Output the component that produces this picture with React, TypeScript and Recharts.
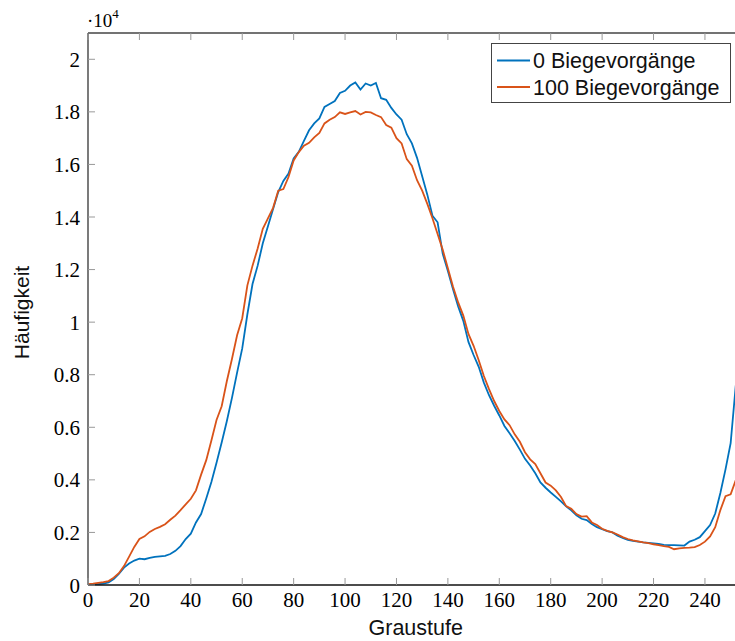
import {
    LineChart,
    Line,
    XAxis,
    YAxis,
    ReferenceLine,
    Legend,
    Label,
} from 'recharts';

// Graustufen (x) und Häufigkeiten der beiden Messungen
const grayLevels = [
    0, 2, 4, 6, 8, 10, 12, 14, 16, 18, 20, 22, 24, 26, 28, 30, 32, 34, 36, 38,
    40, 42, 44, 46, 48, 50, 52, 54, 56, 58, 60, 62, 64, 66, 68, 70, 72, 74, 76, 78,
    80, 82, 84, 86, 88, 90, 92, 94, 96, 98, 100, 102, 104, 106, 108, 110, 112, 114, 116, 118,
    120, 122, 124, 126, 128, 130, 132, 134, 136, 138, 140, 142, 144, 146, 148, 150, 152, 154, 156, 158,
    160, 162, 164, 166, 168, 170, 172, 174, 176, 178, 180, 182, 184, 186, 188, 190, 192, 194, 196, 198,
    200, 202, 204, 206, 208, 210, 212, 214, 216, 218, 220, 222, 224, 226, 228, 230, 232, 234, 236, 238,
    240, 242, 244, 246, 248, 250, 252,
];

const bends0 = [
    0, 10, 30, 50, 100, 230, 420, 660, 820, 930, 1000, 980, 1030, 1070, 1090, 1110, 1180, 1300, 1480, 1750,
    1950, 2380, 2700, 3290, 3920, 4650, 5420, 6230, 7120, 8080, 9000, 10300, 11450, 12150, 13000, 13650, 14300, 14950, 15370, 15650,
    16230, 16480, 16900, 17300, 17560, 17750, 18190, 18300, 18410, 18720, 18800, 19000, 19120, 18850, 19080, 19000, 19100, 18520, 18460, 18150,
    17900, 17700, 17150, 16800, 16250, 15550, 14850, 14050, 13800, 12600, 11950, 11250, 10600, 10050, 9250, 8750, 8300, 7700, 7220, 6820,
    6450, 6050, 5770, 5480, 5150, 4800, 4550, 4250, 3900, 3700, 3520, 3350, 3180, 2990, 2840, 2650, 2520, 2470, 2320, 2200,
    2120, 2050, 2000, 1880, 1790, 1720, 1680, 1650, 1620, 1600, 1580, 1560, 1530, 1520, 1520, 1510, 1500, 1650, 1720, 1820,
    2050, 2280, 2720, 3500, 4400, 5400, 7600,
];

const bends100 = [
    30, 50, 80, 110, 150, 280, 450, 720, 1080, 1450, 1750, 1850, 2020, 2130, 2210, 2310, 2480, 2640, 2850, 3070,
    3280, 3600, 4200, 4750, 5500, 6280, 6800, 7750, 8600, 9500, 10150, 11400, 12150, 12800, 13550, 13950, 14350, 15000, 15060, 15520,
    16150, 16470, 16710, 16820, 17030, 17200, 17560, 17700, 17800, 17980, 17920, 17980, 18030, 17900, 18000, 17980, 17880, 17800, 17500, 17400,
    17000, 16800, 16200, 15950, 15400, 15000, 14500, 13950, 13350, 12750, 12050, 11350, 10750, 10250, 9550, 9100, 8550, 7950, 7450, 7000,
    6620, 6300, 6080, 5730, 5450, 5050, 4780, 4600, 4250, 3900, 3780, 3600, 3350, 3000, 2900, 2700, 2600, 2620, 2380, 2280,
    2140, 2060, 2000, 1920, 1820, 1750, 1700, 1660, 1620, 1590, 1550, 1520, 1480, 1450, 1360, 1390, 1410, 1420, 1440, 1520,
    1650, 1850, 2200, 2850, 3380, 3450, 3990,
];

const xTicks = [0, 20, 40, 60, 80, 100, 120, 140, 160, 180, 200, 220, 240];
const yTicks = [0, 2000, 4000, 6000, 8000, 10000, 12000, 14000, 16000, 18000, 20000];

const seriesNames = ['0 Biegevorgänge', '100 Biegevorgänge'];
const BLUE = '#0072BD';
const ORANGE = '#D95319';

const data = grayLevels.map((g, i) => ({
    gray: g,
    b0: bends0[i],
    b100: bends100[i],
}));

const serif = '"Liberation Serif", "DejaVu Serif", serif';
const sans = '"Liberation Sans", Arial, sans-serif';

const PLOT_TOP = 33;
const TICK_LEN = 7;

// x-Ticks: nach innen zeigend, gespiegelt am oberen Rand
const XTick = ({x, y, payload}: {x: number; y: number; payload: {value: number}}) => (
    <g>
        <line x1={x} x2={x} y1={y} y2={y - TICK_LEN} stroke="#999" strokeWidth={1}/>
        <line x1={x} x2={x} y1={PLOT_TOP} y2={PLOT_TOP + TICK_LEN} stroke="#999" strokeWidth={1}/>
        <text x={x} y={y + 22} textAnchor="middle" fontFamily={serif} fontSize={21} fill="#000">
            {payload.value}
        </text>
    </g>
);

const YTick = ({x, y, payload}: {x: number; y: number; payload: {value: number}}) => (
    <g>
        <line x1={x} x2={x + TICK_LEN} y1={y} y2={y} stroke="#999" strokeWidth={1}/>
        <text x={x - 8} y={y + 7.5} textAnchor="end" fontFamily={serif} fontSize={21} fill="#000">
            {String(payload.value / 10000)}
        </text>
    </g>
);

const ScaleLabel = () => (
    <g>
        <text x={87} y={27} fontFamily={serif} fontSize={19} fill="#000">
            ·10
            <tspan dy={-9} fontSize={13}>4</tspan>
        </text>
        <text x={29} y={312.5} transform="rotate(-90 29 312.5)" textAnchor="middle"
              fontFamily={sans} fontSize={21} fill="#111">
            Häufigkeit
        </text>
    </g>
);

const LegendBox = () => (
    <svg width={241} height={61} style={{display: 'block'}}>
        <rect x={0.5} y={0.5} width={239} height={59} fill="#fff" stroke="#444" strokeWidth={1}/>
        <line x1={6} x2={39} y1={17.5} y2={17.5} stroke={BLUE} strokeWidth={1.8}/>
        <text x={42} y={25} fontFamily={sans} fontSize={21.5} fill="#111">{seriesNames[0]}</text>
        <line x1={6} x2={39} y1={44} y2={44} stroke={ORANGE} strokeWidth={1.8}/>
        <text x={42} y={51.5} fontFamily={sans} fontSize={21.5} fill="#111">{seriesNames[1]}</text>
    </svg>
);

export default function App() {
    return (
        <div style={{
            position: 'absolute', left: 0, top: 0, width: 735, height: 641,
            overflow: 'hidden', background: '#fff',
        }}>
            <LineChart width={760} height={641} data={data}
                       margin={{top: 33, right: 16.5, left: 0, bottom: 0}}>
                <XAxis
                    dataKey="gray"
                    type="number"
                    domain={[0, 255]}
                    ticks={xTicks}
                    interval={0}
                    height={56}
                    tickSize={0}
                    tickMargin={0}
                    tickLine={false}
                    tick={XTick}
                    axisLine={{stroke: '#111', strokeWidth: 1.4}}
                    allowDataOverflow
                >
                    <Label value="Graustufe" position="insideBottom" offset={6}
                           style={{fontFamily: sans, fontSize: 21.5, fill: '#111'}}/>
                </XAxis>
                <YAxis
                    type="number"
                    domain={[0, 21000]}
                    ticks={yTicks}
                    interval={0}
                    width={88}
                    tickSize={0}
                    tickMargin={0}
                    tickLine={false}
                    tick={YTick}
                    axisLine={{stroke: '#333', strokeWidth: 1.3}}
                    allowDataOverflow
                >
                    <Label content={<ScaleLabel/>}/>
                </YAxis>
                <ReferenceLine y={21000} stroke="#444" strokeWidth={1.3} ifOverflow="visible"/>
                <ReferenceLine x={255} stroke="#444" strokeWidth={1.3} ifOverflow="visible"/>
                <Legend
                    layout="horizontal"
                    verticalAlign="middle"
                    align="center"
                    content={<LegendBox/>}
                    wrapperStyle={{position: 'absolute', left: 491, top: 43, width: 241, height: 61}}
                />
                <Line type="linear" dataKey="b0" name={seriesNames[0]} stroke={BLUE}
                      strokeWidth={1.8} dot={false} isAnimationActive={false}/>
                <Line type="linear" dataKey="b100" name={seriesNames[1]} stroke={ORANGE}
                      strokeWidth={1.8} dot={false} isAnimationActive={false}/>
            </LineChart>
        </div>
    );
}
